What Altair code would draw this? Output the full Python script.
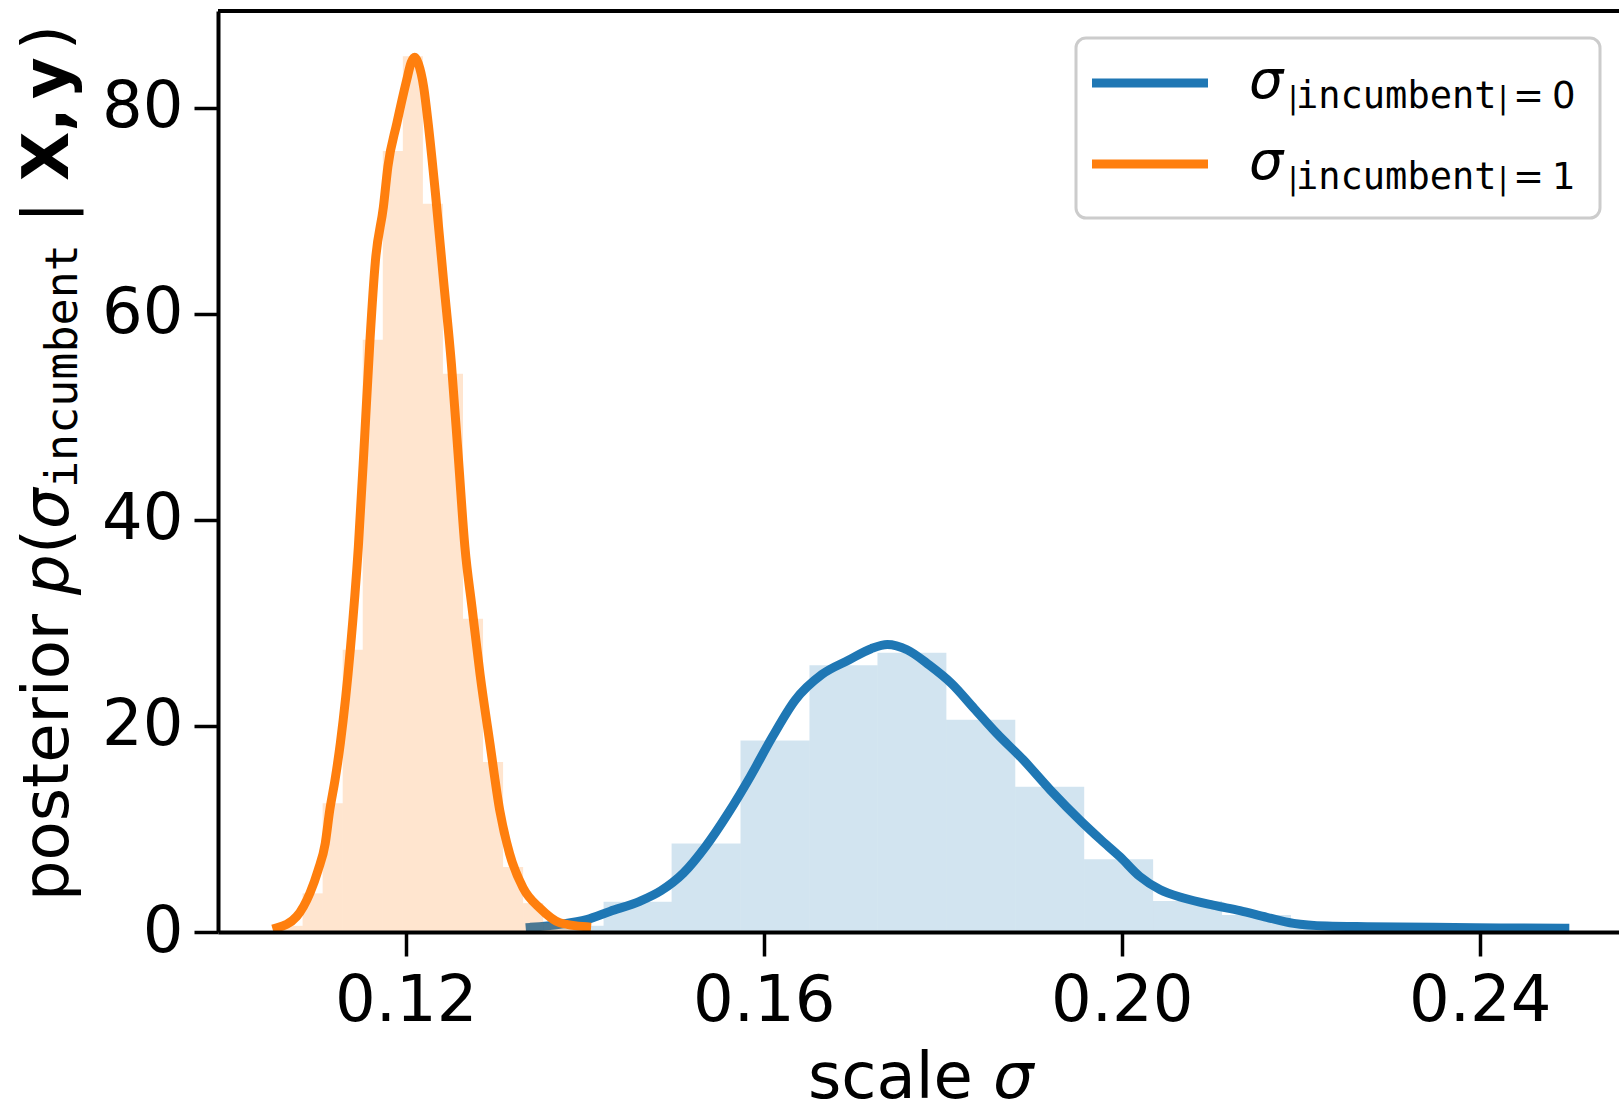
import altair as alt
import pandas as pd

# --- posterior samples summarised as histograms (density) and KDE curves ---
# sigma | incumbent = 0  (blue)
blue_edges = [0.1344, 0.1421, 0.1497, 0.1574, 0.1651, 0.1727, 0.1804, 0.1881,
              0.1958, 0.2035, 0.2112, 0.2189, 0.2266, 0.2342, 0.2419, 0.2496]
blue_heights = [0.6, 2.94, 8.6, 18.6, 25.9, 27.1, 20.6, 14.1, 7.06, 3.0,
                1.65, 0.5, 0.3, 0.2, 0.15]
blue_kde_x = [0.1339, 0.1372, 0.1402, 0.1428, 0.1462, 0.1485, 0.1510, 0.1535,
              0.1560, 0.1585, 0.1610, 0.1635, 0.1665, 0.1695, 0.1720, 0.1738,
              0.1760, 0.1785, 0.1810, 0.1835, 0.1860, 0.1890, 0.1920, 0.1955,
              0.1976, 0.1998, 0.2020, 0.2043, 0.2069, 0.2102, 0.2132, 0.2162,
              0.2192, 0.2229, 0.2274, 0.2348, 0.2423, 0.2495]
blue_kde_y = [0.45, 0.74, 1.2, 2.0, 3.0, 4.0, 5.7, 8.3, 11.5, 15.1, 19.0, 22.5,
              25.0, 26.4, 27.5, 27.9, 27.4, 25.9, 24.1, 21.7, 19.3, 16.7, 13.8,
              10.7, 9.0, 7.3, 5.4, 4.1, 3.3, 2.6, 2.07, 1.43, 0.84, 0.58, 0.51,
              0.45, 0.39, 0.36]

# sigma | incumbent = 1  (orange)
orange_edges = [0.10623, 0.10847, 0.11071, 0.11295, 0.11519, 0.11743, 0.11967,
                0.12191, 0.12415, 0.12639, 0.12863, 0.13087, 0.13311, 0.13535,
                0.13759, 0.13983]
orange_heights = [0.6, 3.75, 12.5, 27.4, 57.5, 75.8, 85.0, 70.7, 54.2, 30.4,
                  16.5, 6.3, 2.8, 0.9, 0.3]
orange_kde_x = [0.1056, 0.1078, 0.1093, 0.1102, 0.1110, 0.1115, 0.1121, 0.1127,
                0.1138, 0.1147, 0.1154, 0.1160, 0.1166, 0.1175, 0.1180, 0.1190,
                0.1201, 0.1206, 0.1210, 0.1214, 0.1220, 0.1225, 0.1233, 0.1242,
                0.1251, 0.1259, 0.1266, 0.1274, 0.1283, 0.1294, 0.1305, 0.1316,
                0.1331, 0.1350, 0.1372, 0.1402]
orange_kde_y = [0.4, 1.5, 3.8, 6.0, 8.6, 11.8, 14.8, 18.4, 27.4, 37.4, 48.0, 57.5,
                65.1, 70.4, 74.3, 78.5, 82.7, 84.4, 84.9, 84.3, 82.0, 78.5, 71.8,
                63.4, 55.1, 45.7, 37.4, 31.5, 25.0, 18.3, 11.8, 7.6, 4.3, 2.3,
                0.9, 0.5]

x_ticks = [0.12, 0.16, 0.20, 0.24]
y_ticks = [0, 20, 40, 60, 80]

BLUE = "#1f77b4"
ORANGE = "#ff7f0e"
FONT = "DejaVu Sans"
MONO = "DejaVu Sans Mono"
W, H = 1401, 921
LINE_W = 9


def hist_frame(edges, heights):
    return pd.DataFrame({"x0": edges[:-1], "x1": edges[1:], "h": heights})


x_scale = alt.Scale(domain=[0.099017, 0.255554], nice=False, zero=False)
y_scale = alt.Scale(domain=[0, 89.4], nice=False)

x_axis = alt.Axis(values=x_ticks, format=".2f", title=None, grid=False,
                  tickSize=24, tickWidth=3.5, domainWidth=4, domainColor="black",
                  tickColor="black", labelFont=FONT, labelFontSize=64,
                  labelColor="black", labelPadding=13, zindex=1)
y_axis = alt.Axis(values=y_ticks, format="d", title=None, grid=False,
                  tickSize=24, tickWidth=3.5, domainWidth=4, domainColor="black",
                  tickColor="black", labelFont=FONT, labelFontSize=64,
                  labelColor="black", labelPadding=11, zindex=1)


def hist_layer(edges, heights, color):
    return alt.Chart(hist_frame(edges, heights)).mark_rect(
        color=color, opacity=0.2
    ).encode(x=alt.X("x0:Q", scale=x_scale, axis=x_axis), x2="x1:Q",
             y=alt.Y("h:Q", scale=y_scale, axis=y_axis), y2=alt.datum(0))


def kde_layer(xs, ys, color):
    return alt.Chart(pd.DataFrame({"x": xs, "y": ys})).mark_line(
        color=color, strokeWidth=LINE_W, interpolate="monotone",
        strokeCap="square", strokeJoin="round"
    ).encode(x=alt.X("x:Q", scale=x_scale, axis=x_axis),
             y=alt.Y("y:Q", scale=y_scale, axis=y_axis))


one_row = pd.DataFrame({"k": [0]})


def txt(text, x, y, size=64, font=FONT, style="normal", weight="normal",
        angle=0, align="left"):
    return alt.Chart(one_row).mark_text(
        text=text, font=font, fontSize=size, fontStyle=style, fontWeight=weight,
        angle=angle, align=align, baseline="alphabetic", color="black"
    ).encode(x=alt.value(x), y=alt.value(y))


# top spine of the axes box
top_spine = alt.Chart(one_row).mark_rule(color="black", strokeWidth=4).encode(
    x=alt.value(0), x2=alt.value(W), y=alt.value(0))

# y-axis label: posterior p(σ_incumbent | X, y), reading bottom to top
YB, YS = -150, -141
y_label = [
    txt("posterior", YB, 890, angle=270),
    txt("p", YB, 584, style="italic", angle=270),
    txt("(", YB, 543, angle=270),
    txt("σ", YB, 518, style="italic", angle=270),
    txt("incumbent", YS, 477, size=45, font=MONO, angle=270),
    txt("|", YB, 212, angle=270),
    txt("X,", YB, 170, weight="bold", angle=270),
    txt("y", YB, 88, weight="bold", angle=270),
    txt(")", YB, 39, angle=270),
]

# x-axis label: scale σ
x_label = [
    txt("scale", 590, 1087),
    txt("σ", 775, 1087, style="italic"),
]

# legend
legend_box = alt.Chart(one_row).mark_rect(
    fill="white", fillOpacity=0.8, stroke="#cccccc", strokeWidth=3,
    cornerRadius=10
).encode(x=alt.value(858), x2=alt.value(1382), y=alt.value(27), y2=alt.value(207))

legend_parts = [legend_box]
for row, (color, value) in enumerate([(BLUE, "0"), (ORANGE, "1")]):
    dy = row * 81
    legend_parts.append(
        alt.Chart(one_row).mark_rule(color=color, strokeWidth=LINE_W).encode(
            x=alt.value(874), x2=alt.value(990), y=alt.value(72 + dy)))
    legend_parts += [
        txt("σ", 1031, 87 + dy, size=54, style="italic"),
        txt("|", 1070, 97 + dy, size=30),
        txt("incumbent", 1078, 97 + dy, size=37, font=MONO),
        txt("|", 1280, 97 + dy, size=30),
        txt("=", 1295, 97 + dy, size=37),
        txt(value, 1334, 97 + dy, size=37),
    ]

chart = alt.layer(
    hist_layer(blue_edges, blue_heights, BLUE),
    kde_layer(blue_kde_x, blue_kde_y, BLUE),
    hist_layer(orange_edges, orange_heights, ORANGE),
    kde_layer(orange_kde_x, orange_kde_y, ORANGE),
    top_spine,
    *legend_parts,
    *y_label,
    *x_label,
).properties(
    width=W, height=H,
    padding={"left": 218, "top": 11, "right": 0, "bottom": 175},
    autosize=alt.AutoSizeParams(type="none"),
    background="white",
).configure_view(stroke=None)

chart.save("out.html", embed_options={"renderer": "svg", "actions": False})
